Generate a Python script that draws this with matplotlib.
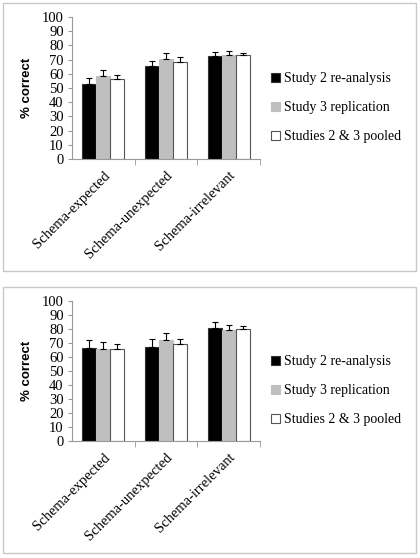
import matplotlib
matplotlib.use("Agg")
import matplotlib.pyplot as plt
import numpy as np
from matplotlib.patches import Rectangle

categories = ["Schema-expected", "Schema-unexpected", "Schema-irrelevant"]
series = ["Study 2 re-analysis", "Study 3 replication", "Studies 2 & 3 pooled"]

# top panel
top_study2 = [53, 65.5, 72.5]
top_study3 = [58.5, 70.5, 73]
top_pooled = [56, 68.5, 73]
top_study2_err = [4, 3.5, 3]
top_study3_err = [4.5, 4.5, 3]
top_pooled_err = [3, 3.5, 2]

# bottom panel
bot_study2 = [66.5, 67, 80.5]
bot_study3 = [65.5, 72, 79]
bot_pooled = [66, 69.5, 80]
bot_study2_err = [6, 6, 4.5]
bot_study3_err = [5.5, 5, 4]
bot_pooled_err = [3, 3.5, 2]

fills = ["black", "#bfbfbf", "white"]
edges = ["#333333", "#bfbfbf", "#555555"]
serif = "Liberation Serif"

fig = plt.figure(figsize=(4.2, 5.58), dpi=100)

# light panel frames
fig.patches.append(Rectangle((3 / 420, (558 - 271) / 558), 413 / 420, 268 / 558,
                             transform=fig.transFigure, fill=False,
                             edgecolor="#c8c8c8", linewidth=1))
fig.patches.append(Rectangle((3 / 420, 5 / 558), 413 / 420, 266 / 558,
                             transform=fig.transFigure, fill=False,
                             edgecolor="#c8c8c8", linewidth=1))


def draw_panel(ax, vals, errs):
    x = np.arange(len(categories))
    w = 0.222
    handles = []
    for j in range(3):
        b = ax.bar(x + (j - 1) * w, vals[j], width=w, color=fills[j],
                   edgecolor=edges[j], linewidth=0.8, label=series[j], zorder=2)
        ax.errorbar(x + (j - 1) * w, vals[j],
                    yerr=[np.zeros(len(x)), errs[j]], fmt="none",
                    ecolor="black", elinewidth=0.8, capsize=2.5, capthick=0.8,
                    zorder=3)
        handles.append(b)
    ax.set_xlim(-0.5, 2.5)
    ax.set_ylim(0, 100)
    ax.set_yticks(np.arange(0, 101, 10))
    ax.set_xticks(x)
    ax.set_xticks([0.5, 1.5, 2.5], minor=True)
    ax.set_xticklabels(categories, rotation=45, ha="right", va="top",
                       rotation_mode="anchor", family=serif, fontsize=10.5)
    for lab in ax.get_yticklabels():
        lab.set_family(serif)
        lab.set_fontsize(10.5)
    ax.tick_params(axis="x", which="major", length=0, pad=7)
    ax.tick_params(axis="x", which="minor", length=4, color="#999999", direction="out")
    ax.tick_params(axis="y", length=3, color="#999999", direction="out", pad=3)
    for s in ["top", "right"]:
        ax.spines[s].set_visible(False)
    for s in ["left", "bottom"]:
        ax.spines[s].set_color("#999999")
        ax.spines[s].set_linewidth(0.8)
    ax.set_ylabel("% correct", fontweight="bold", family="Liberation Sans",
                  fontsize=9.5, labelpad=6)
    ax.legend(handles=handles, labels=series, loc="center left",
              bbox_to_anchor=(1.03, 0.36), frameon=False,
              prop={"family": serif, "size": 10},
              handlelength=0.6, handleheight=0.6, handletextpad=0.35,
              labelspacing=1.15, borderaxespad=0)


ax1 = fig.add_axes([72 / 420, (558 - 159) / 558, 188 / 420, 142 / 558])
draw_panel(ax1, [top_study2, top_study3, top_pooled],
           [top_study2_err, top_study3_err, top_pooled_err])

ax2 = fig.add_axes([72 / 420, (558 - 441) / 558, 188 / 420, 140 / 558])
draw_panel(ax2, [bot_study2, bot_study3, bot_pooled],
           [bot_study2_err, bot_study3_err, bot_pooled_err])

fig.savefig("out.png", dpi=100)
